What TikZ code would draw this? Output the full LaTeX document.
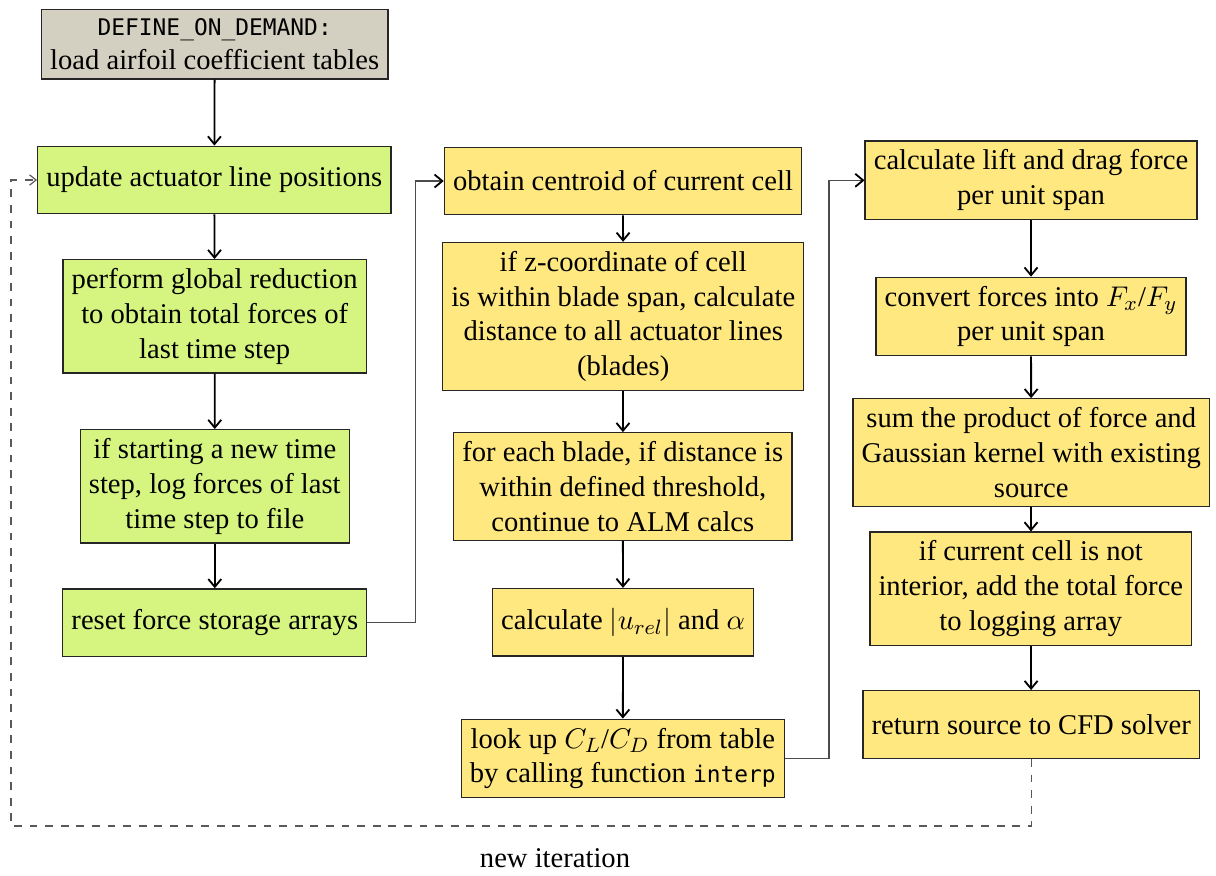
\documentclass[tikz,border=0pt]{standalone}
\usepackage{fontspec}
\setmainfont{Liberation Serif}
\setmonofont[Scale=0.8]{DejaVu Sans Mono}
\usetikzlibrary{arrows.meta}

\definecolor{defgray}{RGB}{211,208,193}
\definecolor{hostgreen}{RGB}{214,245,128}
\definecolor{cellyellow}{RGB}{255,232,128}

\tikzset{
  box/.style={draw=black!85, line width=0.5pt, align=center, minimum height=26pt,
    inner sep=0.3333em, font=\fontsize{11}{13.4}\selectfont},
  defbox/.style={box, fill=defgray},
  hostbox/.style={box, fill=hostgreen},
  cellbox/.style={box, fill=cellyellow},
  flow/.style={-{Straight Barb[length=3pt,width=5pt]}, line width=0.7pt, black},
  jump/.style={-{Straight Barb[length=3pt,width=5pt,black,line width=0.7pt]}, line width=0.45pt, black!70},
  again/.style={-{Straight Barb[length=2.5pt,width=4pt]}, dashed, line width=0.45pt, black!65}
}

\begin{document}
\begin{tikzpicture}[x=0.3846pt, y=-0.3846pt]
        \useasboundingbox (0,0) rectangle (1216,875);

        % Host side (left column)
        \node[defbox]  (define)  at (214.7,44.2)  {\texttt{DEFINE\_ON\_DEMAND:}\\load airfoil coefficient tables};
        \node[hostbox] (update)  at (214.3,180)   {update actuator line positions};
        \node[hostbox] (perform) at (214.7,316.3) {perform global reduction\\to obtain total forces of\\last time step};
        \node[hostbox] (logstep) at (214.8,486.3) {if starting a new time\\step, log forces of last\\time step to file};
        \node[hostbox] (reset)   at (214.8,622.7) {reset force storage arrays};

        % Cell loop (middle column)
        \node[cellbox] (centroid)  at (623,181)     {obtain centroid of current cell};
        \node[cellbox] (distance)  at (623.2,316.5) {if z-coordinate of cell\\is within blade span, calculate\\distance to all actuator lines\\(blades)};
        \node[cellbox] (threshold) at (622.8,486.5) {for each blade, if distance is\\within defined threshold,\\continue to ALM calcs};
        \node[cellbox] (urel)      at (623,622.3)   {calculate $|u_{rel}|$ and $\alpha$};
        \node[cellbox] (lookup)    at (622.8,758.5) {look up $C_L$/$C_D$ from table\\by calling function \texttt{interp}};

        % Forces (right column)
        \node[cellbox] (lift)     at (1031,180.3)   {calculate lift and drag force\\per unit span};
        \node[cellbox] (convert)  at (1031,316.5)   {convert forces into $F_x$/$F_y$\\per unit span};
        \node[cellbox] (sumsrc)   at (1031.2,452.5) {sum the product of force and\\Gaussian kernel with existing\\source};
        \node[cellbox] (logarray) at (1030.8,588.7) {if current cell is not\\interior, add the total force\\to logging array};
        \node[cellbox] (return)   at (1031.2,724.5) {return source to CFD solver};

        \node[font=\fontsize{11}{13.4}\selectfont] (newiter) at (555,858) {new iteration};

        % Arrows
        \draw[flow] (define) -- (update);
        \draw[flow] (update) -- (perform);
        \draw[flow] (perform) -- (logstep);
        \draw[flow] (logstep) -- (reset);
        \draw[jump] (reset.east) -- ++(48,0) |- (centroid.west);
        \draw[flow] (centroid) -- (distance);
        \draw[flow] (distance) -- (threshold);
        \draw[flow] (threshold) -- (urel);
        \draw[flow] (urel) -- (lookup);
        \draw[jump] (lookup.east) -- ++(44,0) |- (lift.west);
        \draw[flow] (lift) -- (convert);
        \draw[flow] (convert) -- (sumsrc);
        \draw[flow] (sumsrc) -- (logarray);
        \draw[flow] (logarray) -- (return);

        % Loop back
        \coordinate (loopcorner) at (11,826);
        \draw[again] (return.south) |- (loopcorner) |- (update.west);
\end{tikzpicture}
\end{document}
